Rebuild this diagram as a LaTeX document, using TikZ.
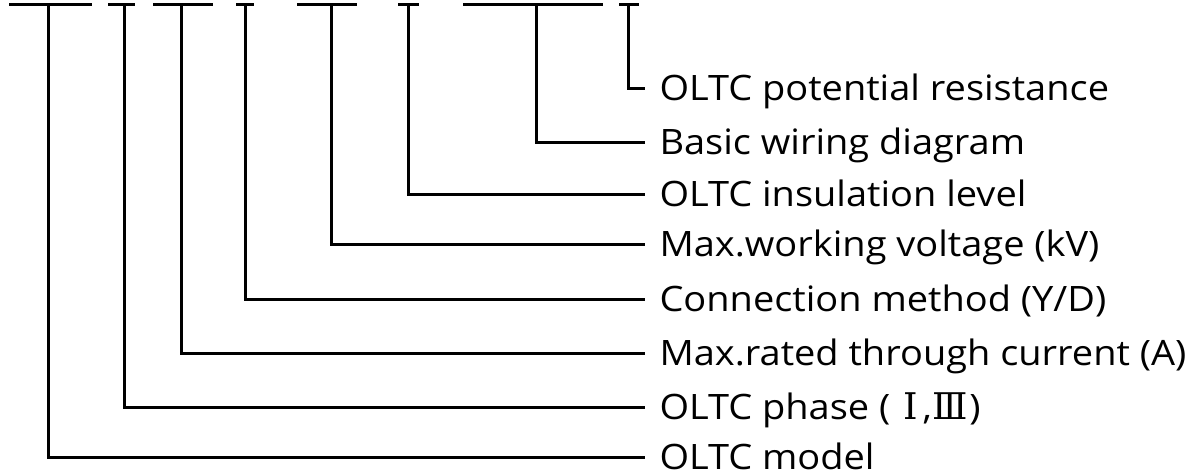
\documentclass[tikz,border=0pt]{standalone}
\usepackage{fontspec}
\setmainfont{Open Sans}[FakeStretch=1.085]
\newfontfamily\numfont{DejaVu Serif}[Scale=1.05]
\usetikzlibrary{positioning}

\begin{document}
\begin{tikzpicture}[x=0.5pt, y=-0.5pt, line width=1.5pt,
    lbl/.style={anchor=west, inner xsep=6.5pt, inner ysep=0pt,
      text height=12.5pt, text depth=0pt, font=\fontsize{17.5}{20}\selectfont}]
  \useasboundingbox (0,0) rectangle (1194,471);
  % code bars along the top
  \draw (9,4) -- (92,4);
  \draw (108,4) -- (135,4);
  \draw (153,4) -- (213,4);
  \draw (236,4) -- (254,4);
  \draw (297,4) -- (357,4);
  \draw (398,4) -- (419,4);
  \draw (463,4) -- (603,4);
  \draw (619,4) -- (639,4);
  \coordinate (model) at (48,4);
  \coordinate (phase) at (124,4);
  \coordinate (current) at (181,4);
  \coordinate (conn) at (245,4);
  \coordinate (volt) at (331,4);
  \coordinate (insul) at (408,4);
  \coordinate (wiring) at (536,4);
  \coordinate (resist) at (628,4);
  % labels
  \node[lbl] (resistL) at (645,88) {OLTC potential resistance};
  \node[lbl] (wiringL) at (645,142) {Basic wiring diagram};
  \node[lbl] (insulL) at (645,194) {OLTC insulation level};
  \node[lbl] (voltL) at (645,244) {Max.working voltage (kV)};
  \node[lbl] (connL) at (645,299) {Connection method (Y/D)};
  \node[lbl] (currentL) at (645,353) {Max.rated through current (A)};
  \node[lbl] (phaseL) at (645,407) {OLTC phase ( \kern1.5pt{\numfont Ⅰ}\kern2.5pt,{\numfont Ⅲ}\kern1pt)};
  \node[lbl] (modelL) at (645,457) {OLTC model};
  % leaders
  \draw (resist) |- (resistL.west);
  \draw (wiring) |- (wiringL.west);
  \draw (insul) |- (insulL.west);
  \draw (volt) |- (voltL.west);
  \draw (conn) |- (connL.west);
  \draw (current) |- (currentL.west);
  \draw (phase) |- (phaseL.west);
  \draw (model) |- (modelL.west);
\end{tikzpicture}
\end{document}
